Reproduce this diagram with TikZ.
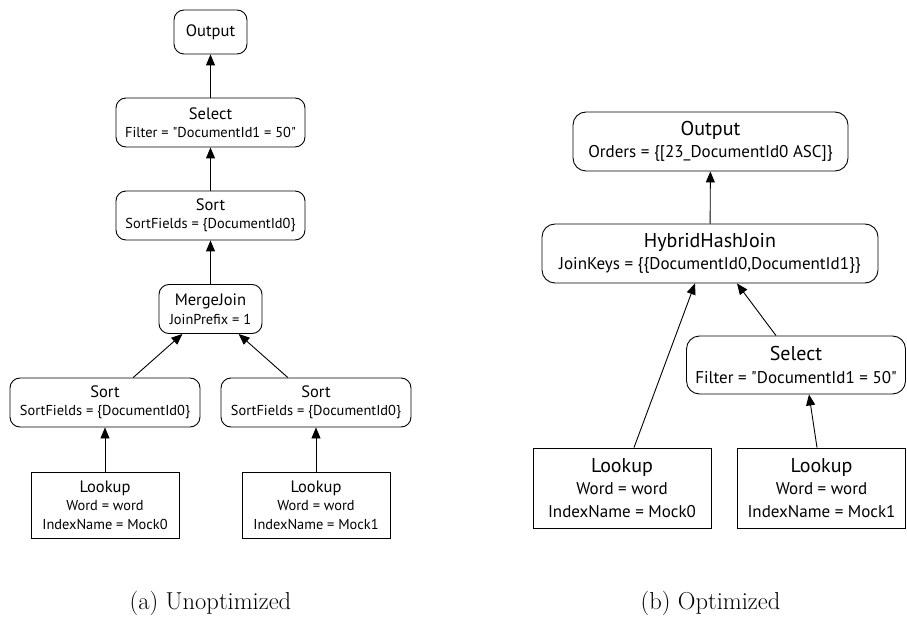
\documentclass[tikz,border=0pt]{standalone}
\usepackage{fontspec}
\newfontfamily\planfont{PT Sans}
\usetikzlibrary{arrows.meta,calc}
% font sizes for the two plans
\newcommand\ltitle{\fontsize{16.5}{18}\selectfont}
\newcommand\lsub{\planfont\fontsize{14.4}{18.5}\selectfont}
\newcommand\rtitle{\fontsize{20}{22}\selectfont}
\newcommand\rsub{\planfont\fontsize{17}{22.5}\selectfont}
\newcommand\dq{\char34\relax}
\begin{document}
\begin{tikzpicture}[x=1pt,y=-1pt,
  opl/.style={draw, rounded corners=10pt, line width=0.9pt, align=center, inner sep=0pt, font=\lsub},
  leafl/.style={draw, line width=0.9pt, align=center, inner sep=0pt, font=\lsub},
  opr/.style={draw, rounded corners=13pt, line width=0.9pt, align=center, inner sep=0pt, font=\rsub},
  leafr/.style={draw, line width=0.9pt, align=center, inner sep=0pt, font=\rsub},
  flow/.style={line width=0.9pt, -{Triangle[length=11pt,width=9pt]}},
  caption/.style={font=\fontsize{24.5}{28}\selectfont},
]
\useasboundingbox (0,0) rectangle (907,628);

% (a) unoptimized plan
\node[opl, minimum width=73pt, minimum height=44pt, font=\planfont\ltitle] (lout) at (210.5,32) {Output};
\node[opl, minimum width=189pt, minimum height=49pt] (lsel) at (210.5,122.5)
  {{\ltitle Select}\\Filter = \dq DocumentId1 = 50\dq};
\node[opl, minimum width=189pt, minimum height=49pt] (lsort) at (210.5,215.5)
  {{\ltitle Sort}\\SortFields = \{DocumentId0\}};
\node[opl, minimum width=103pt, minimum height=49pt] (lmj) at (210.5,309)
  {{\ltitle MergeJoin}\\JoinPrefix = 1};
\node[opl, minimum width=190pt, minimum height=49pt] (lsl) at (105,402.5)
  {{\ltitle Sort}\\SortFields = \{DocumentId0\}};
\node[opl, minimum width=190pt, minimum height=49pt] (lsr) at (316,402.5)
  {{\ltitle Sort}\\SortFields = \{DocumentId0\}};
\node[leafl, minimum width=148pt, minimum height=66pt] (llk0) at (105,505)
  {{\ltitle Lookup}\\Word = word\\IndexName = Mock0};
\node[leafl, minimum width=148pt, minimum height=66pt] (llk1) at (316,505)
  {{\ltitle Lookup}\\Word = word\\IndexName = Mock1};

\draw[flow] (lsel) -- (lout);
\draw[flow] (lsort) -- (lsel);
\draw[flow] (lmj) -- (lsort);
\draw[flow] (lsl) -- (lmj);
\draw[flow] (lsr) -- (lmj);
\draw[flow] (llk0) -- (lsl);
\draw[flow] (llk1) -- (lsr);

\node[caption] (capa) at (210.5,603) {(a) Unoptimized};

% (b) optimized plan
\node[opr, minimum width=275pt, minimum height=59pt] (rout) at (710.5,141.5)
  {{\rtitle Output}\\Orders = \{[23\_DocumentId0 ASC]\}};
\node[opr, minimum width=336pt, minimum height=59pt] (rhj) at (710,253.5)
  {{\rtitle HybridHashJoin}\\JoinKeys = \{\{DocumentId0,DocumentId1\}\}};
\node[opr, minimum width=219pt, minimum height=58pt] (rsel) at (796,365)
  {{\rtitle Select}\\Filter = \dq DocumentId1 = 50\dq};
\node[leafr, minimum width=178pt, minimum height=80pt] (rlk0) at (622,488)
  {{\rtitle Lookup}\\Word = word\\IndexName = Mock0};
\node[leafr, minimum width=168pt, minimum height=80pt] (rlk1) at (821.5,488)
  {{\rtitle Lookup}\\Word = word\\IndexName = Mock1};

\draw[flow] (rhj) -- (rout);
\draw[flow] ($(rsel.north)+(-20,0)$) -- ($(rhj.south)+(27,0)$);
\draw[flow] ($(rlk0.north)+(12,0)$) -- ($(rhj.south)+(-15,0)$);
\draw[flow] ($(rlk1.north)+(-4.5,0)$) -- ($(rsel.south)+(13,0)$);

\node[caption] (capb) at (710.5,603) {(b) Optimized};
\end{tikzpicture}
\end{document}
